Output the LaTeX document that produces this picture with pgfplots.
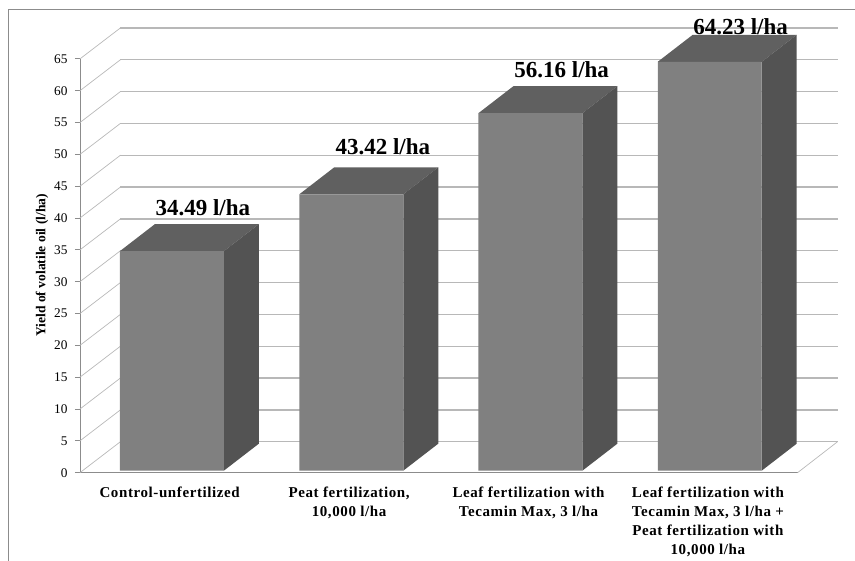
\documentclass[border=0pt]{standalone}
\usepackage{pgfplots}
\usepackage{fontspec}
\setmainfont{Liberation Serif}
\pgfplotsset{compat=1.18}
\definecolor{barfront}{HTML}{808080}
\definecolor{bartop}{HTML}{606060}
\definecolor{barside}{HTML}{535353}
\definecolor{axisgray}{HTML}{8C8C8C}
\definecolor{wallgray}{HTML}{B8B8B8}
\begin{document}
\begin{tikzpicture}
\begin{axis}[
  scale only axis,
  width=718pt, height=414pt,
  xmin=80, xmax=798, ymin=0, ymax=65,
  clip=false,
  unbounded coords=jump,
  axis lines=left,
  axis line style={-, draw=axisgray, line width=0.9pt},
  xtick={169.75,349.25,528.75,708.25},
  xticklabels={Control-unfertilized,
    {Peat fertilization,\\10,000 l/ha},
    {Leaf fertilization with\\Tecamin Max, 3 l/ha},
    {Leaf fertilization with\\Tecamin Max, 3 l/ha +\\Peat fertilization with\\10,000 l/ha}},
  xticklabel style={align=center, font=\fontsize{15}{19}\selectfont\bfseries\addfontfeatures{LetterSpace=4}, yshift=-6pt},
  xtick style={draw=none},
  ytick={0,5,...,65},
  yticklabel style={font=\fontsize{13.3}{15}\selectfont, /pgf/number format/assume math mode=true, xshift=-4pt},
  ytick style={draw=axisgray, line width=0.8pt},
  tick align=outside,
  major tick length=5pt,
  ylabel={Yield of volatile oil (l/ha)},
  every axis y label/.style={at={(axis description cs:-0.0529,0.501)}, rotate=90, anchor=center,
    font=\fontsize{13.6}{15}\selectfont\bfseries},
]
% outer frame of the chart area
\addplot[axisgray, line width=0.9pt, forget plot] coordinates {(8.5,-13.8) (8.5,72.7) (855,72.7)};
% back wall gridlines
\addplot[wallgray, line width=1.3pt, forget plot] coordinates {
  (120.5,4.866) (838,4.866) (nan,nan) (120.5,9.866) (838,9.866) (nan,nan) (120.5,14.866) (838,14.866) (nan,nan)
  (120.5,19.866) (838,19.866) (nan,nan) (120.5,24.866) (838,24.866) (nan,nan) (120.5,29.866) (838,29.866) (nan,nan)
  (120.5,34.866) (838,34.866) (nan,nan) (120.5,39.866) (838,39.866) (nan,nan) (120.5,44.866) (838,44.866) (nan,nan)
  (120.5,49.866) (838,49.866) (nan,nan) (120.5,54.866) (838,54.866) (nan,nan) (120.5,59.866) (838,59.866) (nan,nan)
  (120.5,64.866) (838,64.866) (nan,nan) (120.5,69.866) (838,69.866)};
% side wall gridlines and right edge of the floor
\addplot[wallgray, line width=0.7pt, forget plot] coordinates {
  (80,0) (120.5,4.866) (nan,nan) (80,5) (120.5,9.866) (nan,nan) (80,10) (120.5,14.866) (nan,nan)
  (80,15) (120.5,19.866) (nan,nan) (80,20) (120.5,24.866) (nan,nan) (80,25) (120.5,29.866) (nan,nan)
  (80,30) (120.5,34.866) (nan,nan) (80,35) (120.5,39.866) (nan,nan) (80,40) (120.5,44.866) (nan,nan)
  (80,45) (120.5,49.866) (nan,nan) (80,50) (120.5,54.866) (nan,nan) (80,55) (120.5,59.866) (nan,nan)
  (80,60) (120.5,64.866) (nan,nan) (80,65) (120.5,69.866) (nan,nan) (798,0) (838,4.866)};
% top faces of the bars
\addplot[fill=bartop, draw=none, yshift=2pt, forget plot] coordinates {(120,34.49) (224,34.49) (259,38.73) (155,38.73)} -- cycle;
\addplot[fill=bartop, draw=none, yshift=2pt, forget plot] coordinates {(299.5,43.42) (403.5,43.42) (438.5,47.66) (334.5,47.66)} -- cycle;
\addplot[fill=bartop, draw=none, yshift=2pt, forget plot] coordinates {(478.7,56.16) (582.7,56.16) (617.7,60.40) (513.7,60.40)} -- cycle;
\addplot[fill=bartop, draw=none, yshift=2pt, forget plot] coordinates {(658.1,64.23) (762.1,64.23) (797.1,68.47) (693.1,68.47)} -- cycle;
% side faces of the bars
\addplot[fill=barside, draw=none, yshift=2pt, forget plot] coordinates {(224,0) (259,4.24) (259,38.73) (224,34.49)} -- cycle;
\addplot[fill=barside, draw=none, yshift=2pt, forget plot] coordinates {(403.5,0) (438.5,4.24) (438.5,47.66) (403.5,43.42)} -- cycle;
\addplot[fill=barside, draw=none, yshift=2pt, forget plot] coordinates {(582.7,0) (617.7,4.24) (617.7,60.40) (582.7,56.16)} -- cycle;
\addplot[fill=barside, draw=none, yshift=2pt, forget plot] coordinates {(762.1,0) (797.1,4.24) (797.1,68.47) (762.1,64.23)} -- cycle;
% front faces of the bars
\addplot[ybar, bar width=104, bar shift=0pt, fill=barfront, draw=none, yshift=2pt, forget plot]
  coordinates {(172,34.49) (351.5,43.42) (530.7,56.16) (710.1,64.23)};
% value labels
\node[font=\fontsize{23}{24}\selectfont\bfseries] at (axis cs:203,41.6) {34.49 l/ha};
\node[font=\fontsize{23}{24}\selectfont\bfseries] at (axis cs:383,51.2) {43.42 l/ha};
\node[font=\fontsize{23}{24}\selectfont\bfseries] at (axis cs:562,63.3) {56.16 l/ha};
\node[font=\fontsize{23}{24}\selectfont\bfseries] at (axis cs:741,70.0) {64.23 l/ha};
\coordinate (pagebl) at (axis cs:0,-13.815);
\coordinate (pagetr) at (axis cs:855,74.25);
\end{axis}
\useasboundingbox (pagebl) rectangle (pagetr);
\end{tikzpicture}
\end{document}
